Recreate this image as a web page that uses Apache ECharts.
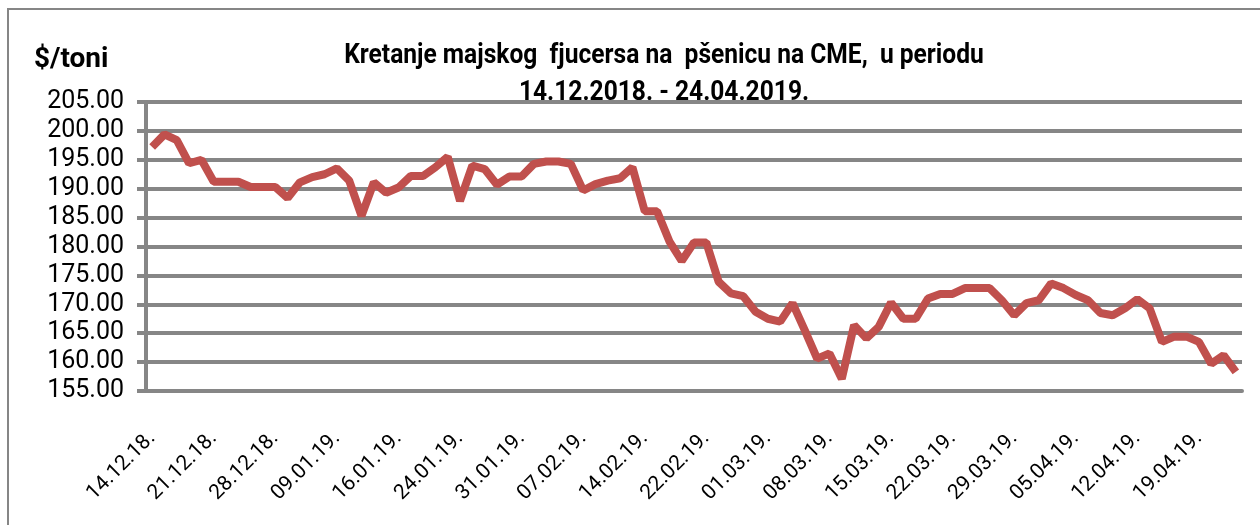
<!DOCTYPE html>
<html>
<head>
<meta charset="utf-8">
<title>Kretanje majskog fjucersa na pšenicu na CME</title>
<script src="https://cdn.jsdelivr.net/npm/echarts@6/dist/echarts.min.js"></script>
<style>
  html, body { margin: 0; padding: 0; background: #fff; }
  #chart { width: 1260px; height: 525px; }
</style>
</head>
<body>
<div id="chart"></div>
<script>
// trading days, one label shown every 5th day
var dates = [
  '14.12.18.', '17.12.18.', '18.12.18.', '19.12.18.', '20.12.18.',
  '21.12.18.', '24.12.18.', '25.12.18.', '26.12.18.', '27.12.18.',
  '28.12.18.', '31.12.18.', '02.01.19.', '03.01.19.', '04.01.19.',
  '09.01.19.', '10.01.19.', '11.01.19.', '14.01.19.', '15.01.19.',
  '16.01.19.', '17.01.19.', '18.01.19.', '22.01.19.', '23.01.19.',
  '24.01.19.', '25.01.19.', '28.01.19.', '29.01.19.', '30.01.19.',
  '31.01.19.', '01.02.19.', '04.02.19.', '05.02.19.', '06.02.19.',
  '07.02.19.', '08.02.19.', '11.02.19.', '12.02.19.', '13.02.19.',
  '14.02.19.', '15.02.19.', '19.02.19.', '20.02.19.', '21.02.19.',
  '22.02.19.', '25.02.19.', '26.02.19.', '27.02.19.', '28.02.19.',
  '01.03.19.', '04.03.19.', '05.03.19.', '06.03.19.', '07.03.19.',
  '08.03.19.', '11.03.19.', '12.03.19.', '13.03.19.', '14.03.19.',
  '15.03.19.', '18.03.19.', '19.03.19.', '20.03.19.', '21.03.19.',
  '22.03.19.', '25.03.19.', '26.03.19.', '27.03.19.', '28.03.19.',
  '29.03.19.', '01.04.19.', '02.04.19.', '03.04.19.', '04.04.19.',
  '05.04.19.', '08.04.19.', '09.04.19.', '10.04.19.', '11.04.19.',
  '12.04.19.', '15.04.19.', '16.04.19.', '17.04.19.', '18.04.19.',
  '19.04.19.', '22.04.19.', '23.04.19.', '24.04.19.'
];

// $/toni
var prices = [
  197.2, 199.4, 198.4, 194.4, 195.0,
  191.2, 191.2, 191.2, 190.3, 190.3,
  190.3, 188.4, 191.1, 192.0, 192.5,
  193.5, 191.4, 185.3, 191.1, 189.3,
  190.2, 192.2, 192.2, 193.7, 195.5,
  187.9, 194.0, 193.4, 190.7, 192.1,
  192.1, 194.3, 194.7, 194.7, 194.3,
  189.7, 190.8, 191.4, 191.8, 193.7,
  186.1, 186.1, 180.9, 177.5, 180.7,
  180.7, 173.9, 171.9, 171.4, 168.7,
  167.5, 167.0, 170.2, 165.5, 160.6,
  161.5, 157.1, 166.4, 164.1, 166.1,
  170.3, 167.5, 167.5, 171.0, 171.8,
  171.8, 172.8, 172.8, 172.8, 170.7,
  168.1, 170.2, 170.7, 173.6, 172.8,
  171.6, 170.7, 168.5, 168.1, 169.3,
  170.9, 169.3, 163.5, 164.4, 164.4,
  163.5, 159.7, 161.2, 158.3
];

var yMin = 155;
var yMax = 205;
var yStep = 5;

var titleLines = [
  'Kretanje majskog  fjucersa na  pšenicu na CME,  u periodu',
  '14.12.2018. - 24.04.2019.'
];
var yName = '$/toni';

var font = 'Roboto, "Liberation Sans", sans-serif';
var gridGray = '#868686';

var chart = echarts.init(document.getElementById('chart'));

// title text is narrow and tall in the original, so squeeze it a bit
var titleText = function (text, y) {
  return {
    type: 'text',
    x: 664, y: y, z: 100,
    scaleX: 0.91,
    style: { text: text, font: 'bold 27px ' + font, fill: '#000', textAlign: 'center', textVerticalAlign: 'middle' }
  };
};

chart.setOption({
  animation: false,
  backgroundColor: '#fff',
  textStyle: { fontFamily: font },
  grid: { left: 146, right: 18, top: 102, bottom: 134 },
  graphic: [
    {
      type: 'rect',
      shape: { x: 8, y: 9, width: 1300, height: 560 },
      style: { fill: 'none', stroke: gridGray, lineWidth: 2 },
      z: -1
    },
    {
      type: 'text',
      x: 34, y: 60, z: 100,
      style: { text: yName, font: 'bold 28px ' + font, fill: '#000', textVerticalAlign: 'middle' }
    },
    titleText(titleLines[0], 56),
    titleText(titleLines[1], 93)
  ],
  xAxis: {
    type: 'category',
    data: dates,
    boundaryGap: true,
    axisLine: { lineStyle: { color: gridGray, width: 4 } },
    axisTick: { show: false },
    axisLabel: {
      interval: 4,
      rotate: 45,
      margin: 44,
      padding: [14, 0, 0, 0],
      fontSize: 21,
      color: '#000',
      fontFamily: font
    }
  },
  yAxis: {
    type: 'value',
    min: yMin,
    max: yMax,
    interval: yStep,
    axisLine: { show: true, lineStyle: { color: gridGray, width: 4 } },
    axisTick: { show: true, length: 9, lineStyle: { color: gridGray, width: 4 } },
    splitLine: { lineStyle: { color: gridGray, width: 4 } },
    axisLabel: {
      margin: 22,
      fontSize: 25,
      color: '#000',
      fontFamily: font,
      formatter: function (v) { return v.toFixed(2); }
    }
  },
  series: [{
    name: 'CME',
    type: 'line',
    data: prices,
    symbol: 'none',
    lineStyle: { color: '#C0504D', width: 8 },
    itemStyle: { color: '#C0504D' }
  }]
});
</script>
</body>
</html>
